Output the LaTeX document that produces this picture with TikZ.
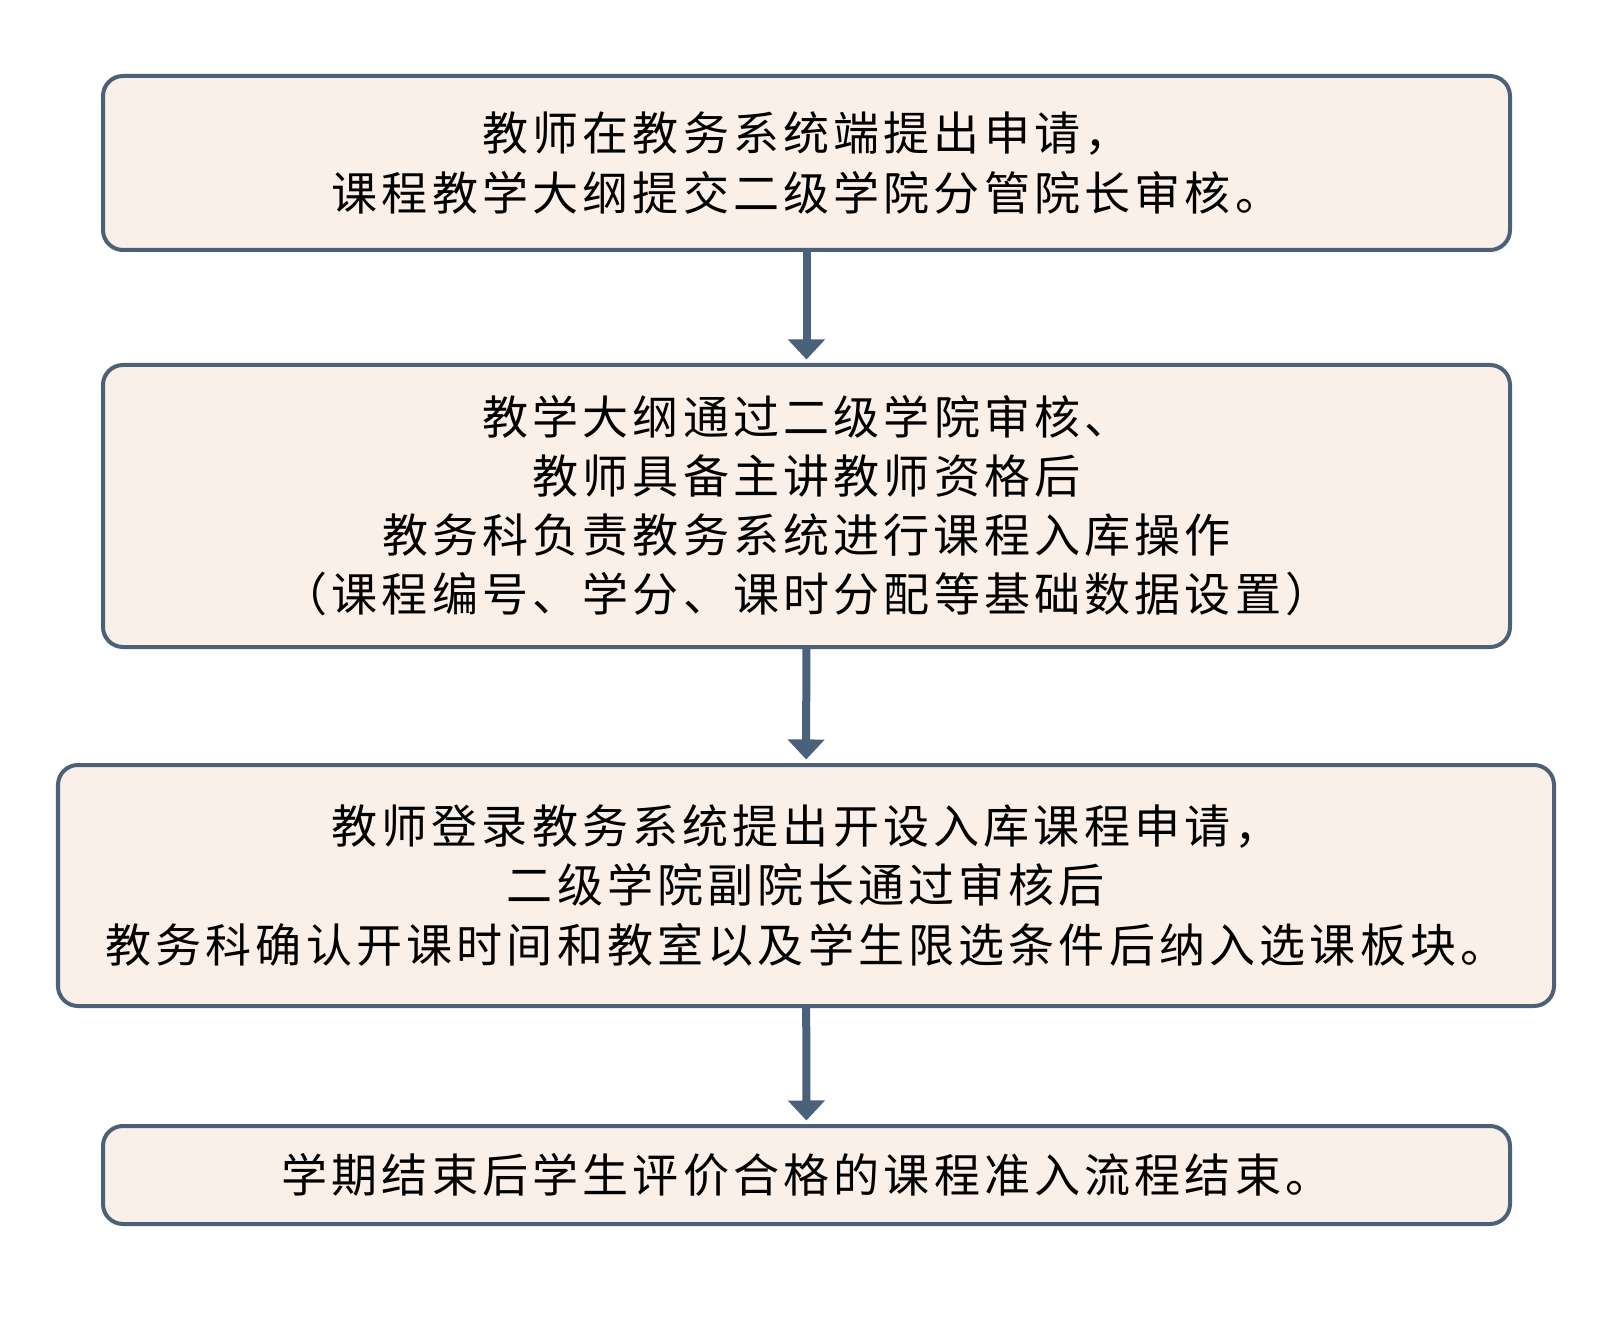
\documentclass[tikz,border=0pt]{standalone}
\usepackage{fontspec}
\newfontfamily\cjk{Noto Sans CJK SC}[LetterSpace=9]
\usetikzlibrary{arrows.meta}
\definecolor{boxline}{HTML}{4B6079}
\definecolor{boxfill}{HTML}{FAF0E8}

\begin{document}
\begin{tikzpicture}[>={Triangle[width=0.72cm,length=0.4cm]}]
\tikzstyle{every node}=[draw=boxline, fill=boxfill, line width=0.08cm, rounded corners=0.4cm, align=center, inner sep=0pt, font=\cjk\fontsize{26.2}{33.6}\selectfont]
\useasboundingbox (0,0) rectangle (32.26,-26.82);
\draw (16.13,-3.26) node (b1) [minimum width=28.14cm, minimum height=3.48cm] {教师在教务系统端提出申请，\\课程教学大纲提交二级学院分管院长审核。};
\draw (16.13,-10.12) node (b2) [minimum width=28.14cm, minimum height=5.64cm] {教学大纲通过二级学院审核、\\教师具备主讲教师资格后\\教务科负责教务系统进行课程入库操作\\（课程编号、学分、课时分配等基础数据设置）};
\draw (16.12,-17.71) node (b3) [minimum width=29.92cm, minimum height=4.82cm] {教师登录教务系统提出开设入库课程申请，\\二级学院副院长通过审核后\\教务科确认开课时间和教室以及学生限选条件后纳入选课板块。};
\draw (16.13,-23.5) node (b4) [minimum width=28.14cm, minimum height=1.96cm] {学期结束后学生评价合格的课程准入流程结束。};
\draw[->, boxline, line width=0.16cm, shorten >=2pt] (b1) -- (b2);
\draw[->, boxline, line width=0.16cm, shorten >=2pt] (b2) -- (b3);
\draw[->, boxline, line width=0.16cm, shorten >=2pt] (b3) -- (b4);
\end{tikzpicture}
\end{document}
